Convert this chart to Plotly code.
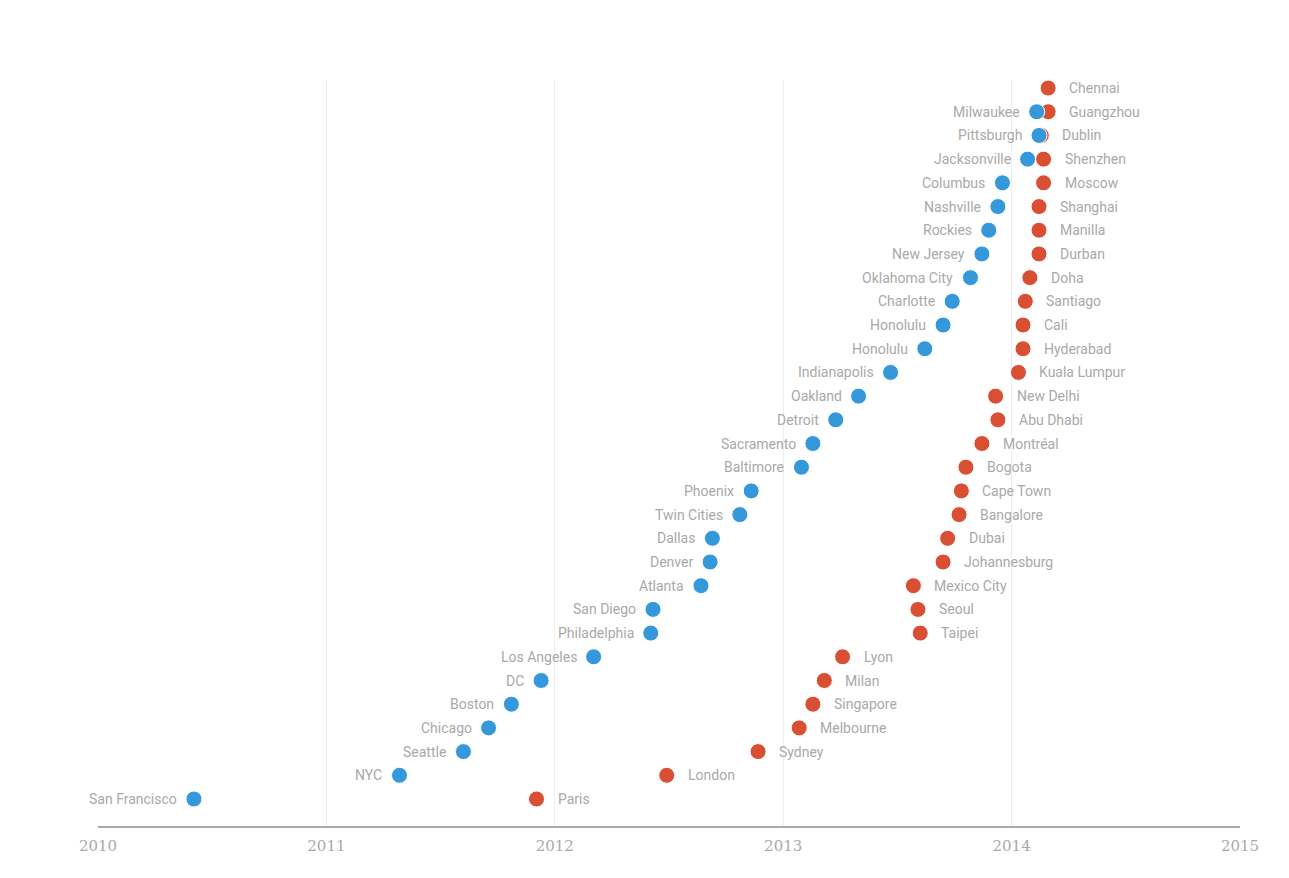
import plotly.graph_objects as go

blue_cities = ["San Francisco", "NYC", "Seattle", "Chicago", "Boston", "DC", "Los Angeles",
               "Philadelphia", "San Diego", "Atlanta", "Denver", "Dallas", "Twin Cities",
               "Phoenix", "Baltimore", "Sacramento", "Detroit", "Oakland", "Indianapolis",
               "Honolulu", "Honolulu", "Charlotte", "Oklahoma City", "New Jersey", "Rockies",
               "Nashville", "Columbus", "Jacksonville", "Pittsburgh", "Milwaukee"]
blue_dates = [2010.42, 2011.32, 2011.60, 2011.71, 2011.81, 2011.94, 2012.17,
              2012.42, 2012.43, 2012.64, 2012.68, 2012.69, 2012.81,
              2012.86, 2013.08, 2013.13, 2013.23, 2013.33, 2013.47,
              2013.62, 2013.70, 2013.74, 2013.82, 2013.87, 2013.90,
              2013.94, 2013.96, 2014.07, 2014.12, 2014.11]
blue_rank = list(range(len(blue_cities)))

red_cities = ["Paris", "London", "Sydney", "Melbourne", "Singapore", "Milan", "Lyon",
              "Taipei", "Seoul", "Mexico City", "Johannesburg", "Dubai", "Bangalore",
              "Cape Town", "Bogota", "Montréal", "Abu Dhabi", "New Delhi", "Kuala Lumpur",
              "Hyderabad", "Cali", "Santiago", "Doha", "Durban", "Manilla", "Shanghai",
              "Moscow", "Shenzhen", "Dublin", "Guangzhou", "Chennai"]
red_dates = [2011.92, 2012.49, 2012.89, 2013.07, 2013.13, 2013.18, 2013.26,
             2013.60, 2013.59, 2013.57, 2013.70, 2013.72, 2013.77,
             2013.78, 2013.80, 2013.87, 2013.94, 2013.93, 2014.03,
             2014.05, 2014.05, 2014.06, 2014.08, 2014.12, 2014.12, 2014.12,
             2014.14, 2014.14, 2014.13, 2014.16, 2014.16]
red_rank = list(range(len(red_cities)))

year_ticks = [2010, 2011, 2012, 2013, 2014, 2015]

BLUE = "#3498db"
RED = "#d84f33"
LABEL = "#a9a9a9"

fig = go.Figure()
fig.add_trace(go.Scatter(x=red_dates, y=red_rank, mode="markers",
                         marker=dict(size=16, color=RED, line=dict(width=1, color="white")),
                         hoverinfo="text", text=red_cities, showlegend=False))
fig.add_trace(go.Scatter(x=blue_dates, y=blue_rank, mode="markers",
                         marker=dict(size=16, color=BLUE, line=dict(width=1, color="white")),
                         hoverinfo="text", text=blue_cities, showlegend=False))

annotations = []
for c, d, r in zip(blue_cities, blue_dates, blue_rank):
    annotations.append(dict(x=d, y=r, text=c, showarrow=False, xanchor="right",
                            yanchor="middle", xshift=-15,
                            font=dict(family="Roboto", size=14, color=LABEL)))
for c, d, r in zip(red_cities, red_dates, red_rank):
    annotations.append(dict(x=d, y=r, text=c, showarrow=False, xanchor="left",
                            yanchor="middle", xshift=19,
                            font=dict(family="Roboto", size=14, color=LABEL)))

fig.update_layout(
    width=1281, height=870,
    margin=dict(l=90, r=49, t=72, b=52),
    plot_bgcolor="white", paper_bgcolor="white",
    annotations=annotations,
    xaxis=dict(range=[2010, 2015], tickvals=year_ticks, ticktext=[str(y) for y in year_ticks],
               showgrid=True, gridcolor="#eeeeee", gridwidth=1,
               showline=True, linecolor="#aaaaaa", linewidth=2,
               zeroline=False, ticks="", ticklen=0, ticklabelstandoff=5,
               tickfont=dict(family="DejaVu Serif", size=15, color="#aaaaaa")),
    yaxis=dict(range=[-1.14, 30.34], showgrid=False, zeroline=False,
               showticklabels=False, showline=False),
)

fig.write_html("out.html")
